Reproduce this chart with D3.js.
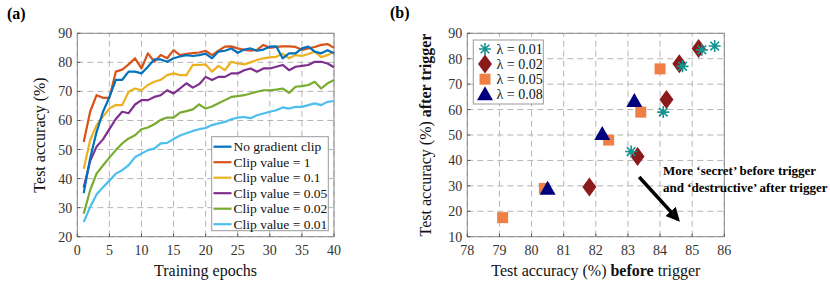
<html>
<head>
<style>
  body { margin: 0; background: #fff; }
  svg text { font-family: "Liberation Serif", "Times New Roman", serif; }
  .tick-label { font-size: 14px; fill: #333; }
</style>
</head>
<body>
<script src="https://d3js.org/d3.v7.min.js"></script>
<svg id="fig" width="830" height="282"></svg>
<script>
// ---- panel (a) data ----
var epochs = d3.range(1, 41);
var seriesNames = ["No gradient clip", "Clip value = 1", "Clip value = 0.1", "Clip value = 0.05", "Clip value = 0.02", "Clip value = 0.01"];
var seriesColors = ["#0072BD", "#D95319", "#EDB120", "#7E2F8E", "#77AC30", "#4DBEEE"];
var noClip = [35, 47, 56, 63, 68, 74, 74, 76.8, 76.8, 76.2, 78.5, 81, 81, 80.2, 81.4, 82, 82.5, 82.2, 82.5, 83,
  81.4, 83.7, 84, 84.8, 83.3, 84.4, 84.8, 84, 84.4, 85.4, 85.5, 81.4, 83.1, 83.1, 84.8, 85.4, 83.7, 83.1, 84.2, 83.1];
var clip1 = [52.6, 63, 68.7, 67.8, 67.8, 76.8, 77.5, 79.3, 81.4, 77.9, 83.1, 80.2, 82.5, 81.4, 84.2, 82.5, 82.9, 83.2, 83.4, 84,
  82.5, 84, 85.4, 85.5, 84.8, 84.3, 84, 84.3, 86, 85, 85.3, 85.5, 85.5, 85.3, 84.3, 84.8, 85.3, 86, 86.3, 85];
var clip01 = [43.4, 53.2, 58.4, 61.3, 64.1, 65.3, 65.3, 69.9, 71, 70.4, 72.2, 73.3, 74, 75.6, 76.2, 75.6, 75.6, 79.1, 79.1, 79.3,
  76.8, 78.8, 77.3, 80.2, 79.6, 79.3, 80, 80.8, 81.4, 81.7, 81.9, 83, 81.4, 82.5, 82.2, 82.9, 83.7, 81.8, 82.5, 83.7];
var clip005 = [36.9, 46, 51, 53.5, 57, 60.5, 63, 62.5, 65.5, 67, 67, 68.1, 68.7, 70.4, 69.3, 71, 72.8, 71.3, 72.5, 75,
  73.9, 75, 75, 76.2, 76.2, 77.3, 77.9, 76.8, 77.9, 77.9, 78.5, 79.1, 77.3, 78.5, 78.8, 79.1, 80.2, 80.2, 79.6, 78.3];
var clip002 = [27.9, 36, 41.7, 44.5, 47.2, 49.8, 52.1, 53.8, 54.9, 57, 57.6, 58.7, 60.2, 61, 61, 62.7, 63.2, 63.8, 65.5, 64.1,
  64.8, 65.9, 67, 68.1, 68.4, 68.7, 69.3, 69.9, 70.4, 70.4, 70.6, 71, 69.5, 71.6, 71.8, 72.2, 73.3, 71, 72.8, 73.9];
var clip001 = [25, 30.2, 34.5, 37, 39.3, 41.7, 42.9, 44.6, 47.4, 48.6, 49.8, 50.3, 52.1, 52.3, 53.6, 54.8, 55.6, 56.4, 57, 57.4,
  58.4, 59, 59.5, 60.4, 61, 61.2, 60.8, 61.8, 62.4, 63, 63.5, 64.5, 64.1, 64.7, 64.7, 65.3, 65.9, 65.3, 66.4, 66.7];
var seriesValues = [noClip, clip1, clip01, clip005, clip002, clip001];
var xTicksA = d3.range(0, 41, 5);
var yTicksA = d3.range(20, 91, 10);

// ---- panel (b) data ----
var lambdaLabels = ["λ = 0.01", "λ = 0.02", "λ = 0.05", "λ = 0.08"];
var lambdaColors = ["#13938F", "#8B1A1A", "#F07F45", "#00007F"];
var lambdaShapes = ["star", "diamond", "square", "triangle"];
var before001 = [83.1, 84.1, 84.7, 85.3, 85.7];
var after001 = [43.5, 59, 77, 83.5, 85];
var before002 = [81.8, 83.3, 84.2, 84.6, 85.2];
var after002 = [29.5, 41.5, 64, 78, 84];
var before005 = [79.1, 80.4, 82.4, 83.4, 84.0];
var after005 = [17.5, 29, 48, 59, 76];
var before008 = [80.5, 82.2, 83.2];
var after008 = [28.5, 50, 63];
var beforeSets = [before001, before002, before005, before008];
var afterSets = [after001, after002, after005, after008];
var xTicksB = d3.range(78, 87, 1);
var yTicksB = d3.range(10, 91, 10);

var svg = d3.select("#fig");

function drawFrame(x, y, xt, yt) {
  var g = svg.append("g");
  var x0 = x.range()[0], x1 = x.range()[1], y0 = y.range()[0], y1 = y.range()[1];
  g.selectAll(".gx").data(xt).enter().append("line")
    .attr("x1", d => x(d)).attr("x2", d => x(d)).attr("y1", y0).attr("y2", y1)
    .attr("stroke", "#b5b5b5").attr("stroke-dasharray", "6,4").attr("stroke-width", 1);
  g.selectAll(".gy").data(yt).enter().append("line")
    .attr("x1", x0).attr("x2", x1).attr("y1", d => y(d)).attr("y2", d => y(d))
    .attr("stroke", "#b5b5b5").attr("stroke-dasharray", "6,4").attr("stroke-width", 1);
  g.append("rect").attr("x", x0).attr("y", y1).attr("width", x1 - x0).attr("height", y0 - y1)
    .attr("fill", "none").attr("stroke", "#8a8a8a").attr("stroke-width", 1);
  // small inward ticks
  g.selectAll(".tx").data(xt).enter().append("line")
    .attr("x1", d => x(d)).attr("x2", d => x(d)).attr("y1", y0).attr("y2", y0 - 3)
    .attr("stroke", "#555");
  g.selectAll(".ty").data(yt).enter().append("line")
    .attr("x1", x0).attr("x2", x0 + 3).attr("y1", d => y(d)).attr("y2", d => y(d))
    .attr("stroke", "#555");
  g.selectAll(".lx").data(xt).enter().append("text").attr("class", "tick-label")
    .attr("x", d => x(d)).attr("y", y0 + 18).attr("text-anchor", "middle").text(d => d);
  g.selectAll(".ly").data(yt).enter().append("text").attr("class", "tick-label")
    .attr("x", x0 - 5).attr("y", d => y(d) + 5).attr("text-anchor", "end").text(d => d);
}

// ---------- panel (a) ----------
var xA = d3.scaleLinear().domain([0, 40]).range([77.3, 334]);
var yA = d3.scaleLinear().domain([20, 90]).range([236.7, 33.3]);
drawFrame(xA, yA, xTicksA, yTicksA);

var lineA = d3.line().x((d, i) => xA(epochs[i])).y(d => yA(d));
// draw from the bottom series up so the top curves sit on top
for (var s = seriesValues.length - 1; s >= 0; s--) {
  svg.append("path").datum(seriesValues[s])
    .attr("d", lineA).attr("fill", "none")
    .attr("stroke", seriesColors[s]).attr("stroke-width", 2.2)
    .attr("stroke-linejoin", "round");
}

var legA = svg.append("g");
legA.append("rect").attr("x", 211.7).attr("y", 136.7).attr("width", 116.6).attr("height", 94)
  .attr("fill", "#fff").attr("stroke", "#999");
seriesNames.forEach(function(n, i) {
  var yy = 146.7 + i * 15.5;
  legA.append("line").attr("x1", 213.5).attr("x2", 231.5).attr("y1", yy).attr("y2", yy)
    .attr("stroke", seriesColors[i]).attr("stroke-width", 2.2);
  legA.append("text").attr("x", 233.5).attr("y", yy + 4.5).style("font-size", "13.5px")
    .attr("fill", "#111").text(n);
});

svg.append("text").attr("x", 7).attr("y", 19).style("font-size", "16px").style("font-weight", "bold").text("(a)");
svg.append("text").attr("x", 205.5).attr("y", 276).attr("text-anchor", "middle")
  .style("font-size", "16px").attr("fill", "#111").text("Training epochs");
svg.append("text").attr("transform", "translate(45,135) rotate(-90)").attr("text-anchor", "middle")
  .style("font-size", "16px").attr("fill", "#111").text("Test accuracy (%)");

// ---------- panel (b) ----------
var xB = d3.scaleLinear().domain([78, 86]).range([467.3, 724.3]);
var yB = d3.scaleLinear().domain([10, 90]).range([236.7, 33.3]);
drawFrame(xB, yB, xTicksB, yTicksB);

function markerPath(shape) {
  if (shape === "star") return "M-6,0L6,0M0,-6L0,6M-4.3,-4.3L4.3,4.3M-4.3,4.3L4.3,-4.3";
  if (shape === "diamond") return "M0,-9.5L7,0L0,9.5L-7,0Z";
  if (shape === "square") return "M-5.5,-5.5L5.5,-5.5L5.5,5.5L-5.5,5.5Z";
  return "M0,-9L8,5L-8,5Z";
}
function drawMarker(g, shape, color, cx, cy) {
  var p = g.append("path").attr("d", markerPath(shape))
    .attr("transform", "translate(" + cx + "," + cy + ")");
  if (shape === "star") p.attr("fill", "none").attr("stroke", color).attr("stroke-width", 1.6);
  else p.attr("fill", color).attr("stroke", "none");
}

var pts = svg.append("g");
// draw order: squares, triangles, diamonds, stars on top
[2, 3, 1, 0].forEach(function(k) {
  beforeSets[k].forEach(function(b, i) {
    drawMarker(pts, lambdaShapes[k], lambdaColors[k], xB(b), yB(afterSets[k][i]));
  });
});

var legB = svg.append("g");
legB.append("rect").attr("x", 473.3).attr("y", 40).attr("width", 70).attr("height", 64)
  .attr("fill", "#fff").attr("stroke", "#999");
lambdaLabels.forEach(function(n, i) {
  var yy = 49 + i * 15.1;
  drawMarker(legB, lambdaShapes[i], lambdaColors[i], 485, yy + (lambdaShapes[i] === "triangle" ? 1 : 0));
  legB.append("text").attr("x", 496.5).attr("y", yy + 5).style("font-size", "14px")
    .attr("fill", "#111").text(n);
});

// arrow annotation
svg.append("defs").append("marker").attr("id", "ah").attr("viewBox", "0 0 10 10")
  .attr("refX", 8).attr("refY", 5).attr("markerWidth", 4).attr("markerHeight", 4)
  .attr("orient", "auto").append("path").attr("d", "M0,0L10,5L0,10Z").attr("fill", "#000");
svg.append("line").attr("x1", xB(83.35)).attr("y1", yB(33.5)).attr("x2", xB(84.56)).attr("y2", yB(16.7))
  .attr("stroke", "#000").attr("stroke-width", 3.5).attr("marker-end", "url(#ah)");
svg.append("text").attr("x", 663).attr("y", 175).style("font-size", "13px").style("font-weight", "bold")
  .text("More ‘secret’ before trigger");
svg.append("text").attr("x", 663).attr("y", 191.5).style("font-size", "13px").style("font-weight", "bold")
  .text("and ‘destructive’ after trigger");

svg.append("text").attr("x", 390).attr("y", 18).style("font-size", "16px").style("font-weight", "bold").text("(b)");
var xlab = svg.append("text").attr("x", 595.8).attr("y", 276).attr("text-anchor", "middle")
  .style("font-size", "16px").attr("fill", "#111");
xlab.append("tspan").text("Test accuracy (%) ");
xlab.append("tspan").style("font-weight", "bold").text("before");
xlab.append("tspan").text(" trigger");
var ylab = svg.append("text").attr("transform", "translate(431,135) rotate(-90)").attr("text-anchor", "middle")
  .style("font-size", "16px").attr("fill", "#111");
ylab.append("tspan").text("Test accuracy (%) ");
ylab.append("tspan").style("font-weight", "bold").text("after trigger");
</script>
</body>
</html>
